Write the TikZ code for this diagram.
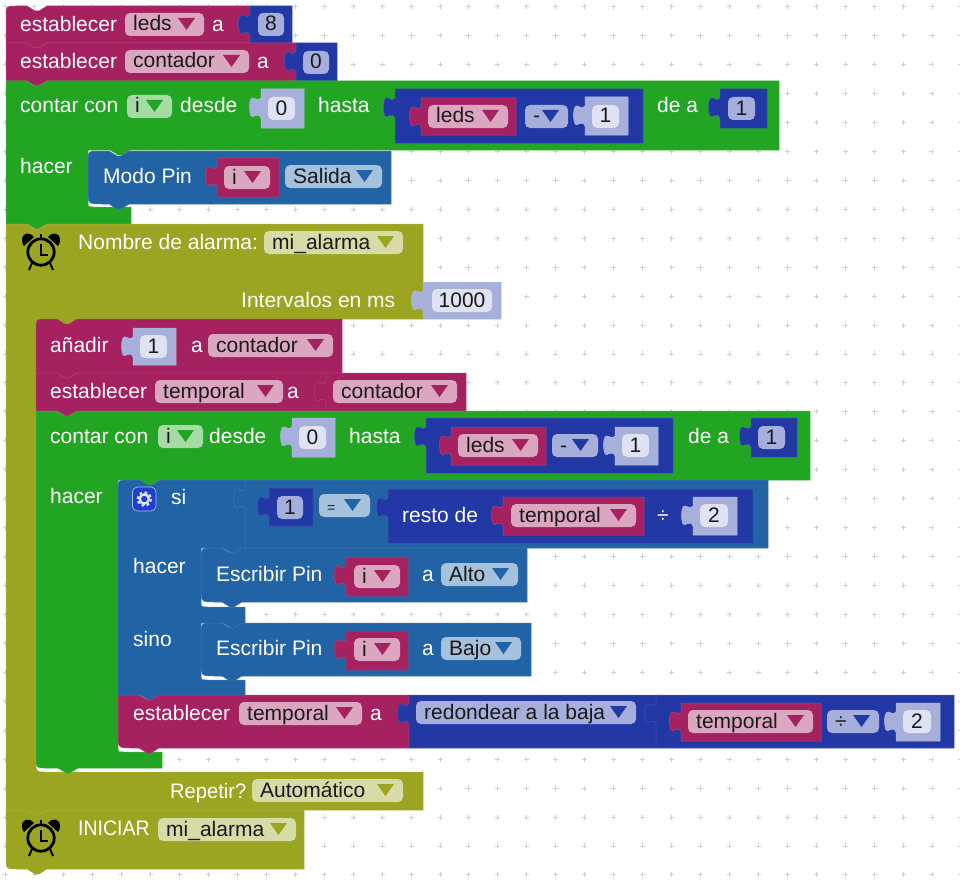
\documentclass[tikz,border=0pt]{standalone}
\usepackage{fontspec}
\setmainfont{Liberation Sans}
\usepackage{xcolor}
\definecolor{BlockMagenta}{HTML}{A52160}
\definecolor{BlockGreen}{HTML}{22A522}
\definecolor{BlockBlue}{HTML}{2163A5}
\definecolor{BlockNavy}{HTML}{2138A5}
\definecolor{BlockOlive}{HTML}{9BA521}
\definecolor{BlockShadow}{HTML}{A7AFDB}
\definecolor{FieldPink}{HTML}{DBA6C0}
\definecolor{FieldGreen}{HTML}{A6DBA6}
\definecolor{FieldBlue}{HTML}{A6C1DB}
\definecolor{FieldNavy}{HTML}{A6AFDB}
\definecolor{FieldOlive}{HTML}{D7DBA6}
\definecolor{FieldShadow}{HTML}{DFE2F2}
\definecolor{GearBlue}{HTML}{1F3FD0}
\tikzset{
  lbl/.style={text=white, inner sep=0pt, anchor=base west, font=\fontsize{21}{24}\selectfont},
  val/.style={text=black!90, inner sep=0pt, anchor=base west, font=\fontsize{21}{24}\selectfont},
  edge/.style={draw=#1!85!white, line width=0.5pt}
}
% statement block: colour, x1, y1, x2, y2, top radius, bottom radius
\newcommand{\stmtblock}[7]{
  \path[fill=#1, edge=#1] (#2,{#3+#6}) .. controls (#2,#3) .. ({#2+#6},#3)
    -- ({#2+21},#3) -- ({#2+29},{#3+5}) -- ({#2+33},{#3+5}) -- ({#2+41},#3)
    -- (#4,#3) -- (#4,#5)
    -- ({#2+41},#5) -- ({#2+33},{#5+5}) -- ({#2+29},{#5+5}) -- ({#2+21},#5)
    -- ({#2+#7},#5) .. controls (#2,#5) .. (#2,{#5-#7}) -- cycle;
}
% value block with its tab on the left: colour, x1, y1, x2, y2
\newcommand{\valblock}[5]{
  \path[fill=#1, edge=#1] (#2,#3) -- (#4,#3) -- (#4,#5) -- (#2,#5) -- (#2,{#3+29})
    .. controls ({#2-3},{#3+22}) and ({#2-8},{#3+30}) .. ({#2-10},{#3+27})
    .. controls ({#2-12},{#3+22}) and ({#2-12},{#3+14}) .. ({#2-10},{#3+10})
    .. controls ({#2-8},{#3+6}) and ({#2-3},{#3+14}) .. (#2,{#3+9}) -- cycle;
}
% dropdown: name, x1, y1, x2, fill, arrow colour, text
\newcommand{\ddfield}[7]{
  \fill[#5, rounded corners=5pt] (#2,#3) rectangle (#4,{#3+23});
  \fill[#6] ({#4-26},{#3+5}) -- ({#4-9},{#3+5}) -- ({#4-17.5},{#3+17}) -- cycle;
  \node[val] (#1) at ({#2+8},{#3+18}) {#7};
}
% number field: name, x1, y1, x2, fill, text
\newcommand{\numfield}[6]{
  \fill[#5, rounded corners=5pt] (#2,#3) rectangle (#4,{#3+23});
  \node[val, anchor=base] (#1) at ({(#2+#4)/2},{#3+18}) {#6};
}
% clock icon: x, y of its centre
\newcommand{\clockicon}[2]{
  \draw[black, line width=2.8pt] (#1,#2) circle (13.2);
  \draw[black, line width=2pt] (#1,{#2-8}) -- (#1,{#2+3}) -- ({#1+7},{#2+3});
  \fill[black] ({#1-7},{#2-15}) .. controls ({#1-12},{#2-21}) and ({#1-19},{#2-19}) .. ({#1-19},{#2-12})
    .. controls ({#1-19},{#2-9}) and ({#1-18},{#2-7}) .. ({#1-17},{#2-6}) -- cycle;
  \fill[black] ({#1+7},{#2-15}) .. controls ({#1+12},{#2-21}) and ({#1+19},{#2-19}) .. ({#1+19},{#2-12})
    .. controls ({#1+19},{#2-9}) and ({#1+18},{#2-7}) .. ({#1+17},{#2-6}) -- cycle;
  \draw[black, line width=1.6pt] (#1,{#2-18}) -- (#1,{#2-14});
  \draw[black, line width=2pt] ({#1-9},{#2+11}) -- ({#1-12},{#2+18});
  \draw[black, line width=2pt] ({#1+9},{#2+11}) -- ({#1+12},{#2+18});
}
\begin{document}
\begin{tikzpicture}[x=1pt, y=-1pt]
  \useasboundingbox (0,0) rectangle (960,880);
  \fill[white] (0,0) rectangle (960,880);
  \foreach \i in {0,...,33}
    \foreach \j in {0,...,30}
      \draw[black!18, line width=0.9pt] ({5.9+28.94*\i-2.5},{6.7+28.94*\j}) -- ++(5,0)
        ({5.9+28.94*\i},{6.7+28.94*\j-2.5}) -- ++(0,5);

  \stmtblock{BlockMagenta}{6}{6}{250}{43}{10}{0}
  \valblock{BlockNavy}{250}{6}{292}{43}
  \node[lbl] (setleds) at (20,32) {establecer};
  \ddfield{ledsname}{125}{13}{204}{FieldPink}{BlockMagenta}{leds}
  \node[lbl] (setledsa) at (212,32) {a};
  \numfield{ledsval}{258}{13}{284}{FieldNavy}{8}

  \stmtblock{BlockMagenta}{6}{43}{296}{81}{0}{0}
  \valblock{BlockNavy}{296}{43}{337}{81}
  \node[lbl] (setcount) at (20,69) {establecer};
  \ddfield{countname}{125}{50}{249}{FieldPink}{BlockMagenta}{contador}
  \node[lbl] (setcounta) at (257,69) {a};
  \numfield{countval}{303}{51}{329}{FieldNavy}{0}

  % first loop
  \path[fill=BlockGreen, edge=BlockGreen] (6,81) -- (27,81) -- (35,86) -- (39,86) -- (47,81) -- (779,81) -- (779,150)
    -- (130,150) -- (122,155) -- (118,155) -- (110,150)
    -- (88,150) -- (88,201) .. controls (88,207) .. (94,207) -- (131,207) -- (131,224)
    -- (47,224) -- (39,229) -- (35,229) -- (27,224) -- (6,224) -- cycle;
  \node[lbl] (loopa) at (20,113) {contar con};
  \ddfield{loopavar}{127}{95}{172}{FieldGreen}{BlockGreen}{i}
  \node[lbl] (loopafrom) at (180,113) {desde};
  \valblock{BlockShadow}{261}{89}{304}{128}
  \numfield{loopastart}{268}{97}{295}{FieldShadow}{0}
  \node[lbl] (loopato) at (318,113) {hasta};
  \valblock{BlockNavy}{395}{89}{643}{143}
  \valblock{BlockMagenta}{421}{98}{516}{135}
  \ddfield{loopaleds}{428}{105}{508}{FieldPink}{BlockMagenta}{leds}
  \ddfield{loopaminus}{525}{105}{568}{FieldNavy}{BlockNavy}{-}
  \valblock{BlockShadow}{585}{97}{628}{135}
  \numfield{loopaone}{592}{105}{619}{FieldShadow}{1}
  \node[lbl] (loopastep) at (657,113) {de a};
  \valblock{BlockNavy}{720}{89}{767}{128}
  \numfield{loopastepval}{728}{97}{755}{FieldNavy}{1}
  \node[lbl] (loopado) at (20,173) {hacer};
  \stmtblock{BlockBlue}{88}{151}{391}{204}{12}{14}
  \node[lbl] (pinmode) at (103,183) {Modo Pin};
  \valblock{BlockMagenta}{217}{158}{279}{197}
  \ddfield{pinmodevar}{224}{166}{270}{FieldPink}{BlockMagenta}{i}
  \ddfield{pinmodeout}{285}{165}{382}{FieldBlue}{BlockBlue}{Salida}

  % alarm
  \path[fill=BlockOlive, edge=BlockOlive] (6,224) -- (27,224) -- (35,229) -- (39,229) -- (47,224) -- (423,224) -- (423,319)
    -- (77,319) -- (69,324) -- (65,324) -- (57,319)
    -- (46,319) .. controls (36,319) .. (36,329) -- (36,762) .. controls (36,772) .. (46,772) -- (423,772)
    -- (423,810) -- (47,810) -- (39,815) -- (35,815) -- (27,810) -- (6,810) -- cycle;
  \clockicon{41}{252}
  \node[lbl] (alarmname) at (78,249) {Nombre de alarma:};
  \ddfield{alarmnameval}{264}{231}{403}{FieldOlive}{BlockOlive}{mi\_alarma}
  \node[lbl] (alarmms) at (241,307) {Intervalos en ms};
  \valblock{BlockShadow}{423}{282}{501}{319}
  \numfield{alarmmsval}{432}{289}{492}{FieldShadow}{1000}
  \node[lbl, xscale=.96] (alarmrepeat) at (170,798) {Repetir?};
  \ddfield{alarmrepeatval}{252}{779}{403}{FieldOlive}{BlockOlive}{Automático}

  \stmtblock{BlockMagenta}{36}{319}{342}{373}{10}{0}
  \node[lbl] (addto) at (50,352) {añadir};
  \valblock{BlockShadow}{133}{328}{176}{365}
  \numfield{addval}{140}{335}{167}{FieldShadow}{1}
  \node[lbl] (addtoa) at (191,352) {a};
  \ddfield{addname}{208}{334}{333}{FieldPink}{BlockMagenta}{contador}

  \stmtblock{BlockMagenta}{36}{373}{326}{411}{0}{0}
  \node[lbl] (settemp) at (50,398) {establecer};
  \ddfield{tempname}{155}{380}{283}{FieldPink}{BlockMagenta}{temporal}
  \node[lbl] (settempa) at (287,398) {a};
  \valblock{BlockMagenta}{326}{373}{466}{411}
  \ddfield{tempval}{333}{380}{457}{FieldPink}{BlockMagenta}{contador}

  % second loop
  \path[fill=BlockGreen, edge=BlockGreen] (36,411) -- (57,411) -- (65,416) -- (69,416) -- (77,411) -- (810,411) -- (810,480)
    -- (160,480) -- (152,485) -- (148,485) -- (140,480)
    -- (118,480) -- (118,746) .. controls (118,752) .. (124,752) -- (162,752) -- (162,768)
    -- (78,768) -- (70,773) -- (66,773) -- (58,768) -- (46,768) .. controls (36,768) .. (36,758) -- cycle;
  \node[lbl] (loopb) at (50,443) {contar con};
  \ddfield{loopbvar}{158}{425}{203}{FieldGreen}{BlockGreen}{i}
  \node[lbl] (loopbfrom) at (209,443) {desde};
  \valblock{BlockShadow}{292}{418}{335}{457}
  \numfield{loopbstart}{299}{426}{326}{FieldShadow}{0}
  \node[lbl] (loopbto) at (349,443) {hasta};
  \valblock{BlockNavy}{426}{418}{673}{473}
  \valblock{BlockMagenta}{451}{427}{546}{465}
  \ddfield{loopbleds}{458}{434}{538}{FieldPink}{BlockMagenta}{leds}
  \ddfield{loopbminus}{552}{434}{598}{FieldNavy}{BlockNavy}{-}
  \valblock{BlockShadow}{615}{427}{658}{465}
  \numfield{loopbone}{622}{434}{649}{FieldShadow}{1}
  \node[lbl] (loopbstep) at (688,443) {de a};
  \valblock{BlockNavy}{751}{418}{797}{457}
  \numfield{loopbstepval}{758}{426}{785}{FieldNavy}{1}
  \node[lbl] (loopbdo) at (50,503) {hacer};

  % if block
  \path[fill=BlockBlue, edge=BlockBlue] (118,490) .. controls (118,480) .. (128,480) -- (140,480) -- (148,485) -- (152,485) -- (160,480)
    -- (245,480) -- (245,548) -- (243,548) -- (235,553) -- (231,553) -- (223,548)
    -- (201,548) -- (201,601) .. controls (201,607) .. (207,607) -- (245,607) -- (245,623)
    -- (243,623) -- (235,628) -- (231,628) -- (223,623)
    -- (201,623) -- (201,674) .. controls (201,680) .. (207,680) -- (245,680) -- (245,695)
    -- (160,695) -- (152,700) -- (148,700) -- (140,695) -- (118,695) -- cycle;
  \valblock{BlockBlue}{245}{480}{768}{548}
  \draw[fill=GearBlue, draw=FieldBlue, line width=0.7pt, rounded corners=5pt] (132.5,487) rectangle (156,511);
  \draw[FieldShadow, line width=2.4pt] (144.3,499) circle (4.6);
  \draw[FieldShadow, line width=2.2pt, dash pattern=on 2.6pt off 2.6pt] (144.3,499) circle (6.6);
  \node[lbl] (ifword) at (171,504) {si};
  \valblock{BlockNavy}{269}{488}{313}{526}
  \numfield{ifone}{277}{496}{303}{FieldNavy}{1}
  \ddfield{ifeq}{319}{494}{370}{FieldBlue}{BlockBlue}{\fontsize{14}{14}\selectfont =}
  \valblock{BlockNavy}{388}{489}{753}{543}
  \node[lbl] (ifrest) at (402,522) {resto de};
  \valblock{BlockMagenta}{503}{497}{644}{535}
  \ddfield{iftemp}{511}{504}{636}{FieldPink}{BlockMagenta}{temporal}
  \node[lbl] (ifdiv) at (657,522) {÷};
  \valblock{BlockShadow}{693}{497}{737}{535}
  \numfield{iftwo}{700}{504}{728}{FieldShadow}{2}

  \node[lbl] (thenword) at (133,573) {hacer};
  \stmtblock{BlockBlue}{201}{548}{527}{602}{12}{14}
  \node[lbl] (writea) at (216,581) {Escribir Pin};
  \valblock{BlockMagenta}{346}{557}{408}{596}
  \ddfield{writeavar}{354}{565}{400}{FieldPink}{BlockMagenta}{i}
  \node[lbl] (writeato) at (422,581) {a};
  \ddfield{writeaval}{441}{563}{518}{FieldBlue}{BlockBlue}{Alto}

  \node[lbl] (elseword) at (133,646) {sino};
  \stmtblock{BlockBlue}{201}{623}{531}{676}{12}{14}
  \node[lbl] (writeb) at (216,655) {Escribir Pin};
  \valblock{BlockMagenta}{346}{631}{408}{670}
  \ddfield{writebvar}{354}{638}{400}{FieldPink}{BlockMagenta}{i}
  \node[lbl] (writebto) at (422,655) {a};
  \ddfield{writebval}{441}{637}{521}{FieldBlue}{BlockBlue}{Bajo}

  \stmtblock{BlockMagenta}{118}{695}{409}{748}{0}{14}
  \node[lbl] (halve) at (133,720) {establecer};
  \ddfield{halvename}{239}{702}{362}{FieldPink}{BlockMagenta}{temporal}
  \node[lbl] (halvea) at (370,720) {a};
  \valblock{BlockNavy}{409}{695}{656}{748}
  \ddfield{floorname}{416}{701}{636}{FieldNavy}{BlockNavy}{redondear a la baja}
  \valblock{BlockNavy}{656}{695}{954}{748}
  \valblock{BlockMagenta}{681}{703}{821}{741}
  \ddfield{floortemp}{688}{710}{813}{FieldPink}{BlockMagenta}{temporal}
  \ddfield{floordiv}{827}{710}{879}{FieldNavy}{BlockNavy}{÷}
  \valblock{BlockShadow}{896}{703}{940}{741}
  \numfield{floortwo}{903}{710}{931}{FieldShadow}{2}

  % start alarm
  \stmtblock{BlockOlive}{6}{810}{304}{869}{0}{12}
  \clockicon{41}{838}
  \node[lbl, xscale=.93] (startword) at (78,835) {INICIAR};
  \ddfield{startname}{158}{818}{296}{FieldOlive}{BlockOlive}{mi\_alarma}
\end{tikzpicture}
\end{document}
